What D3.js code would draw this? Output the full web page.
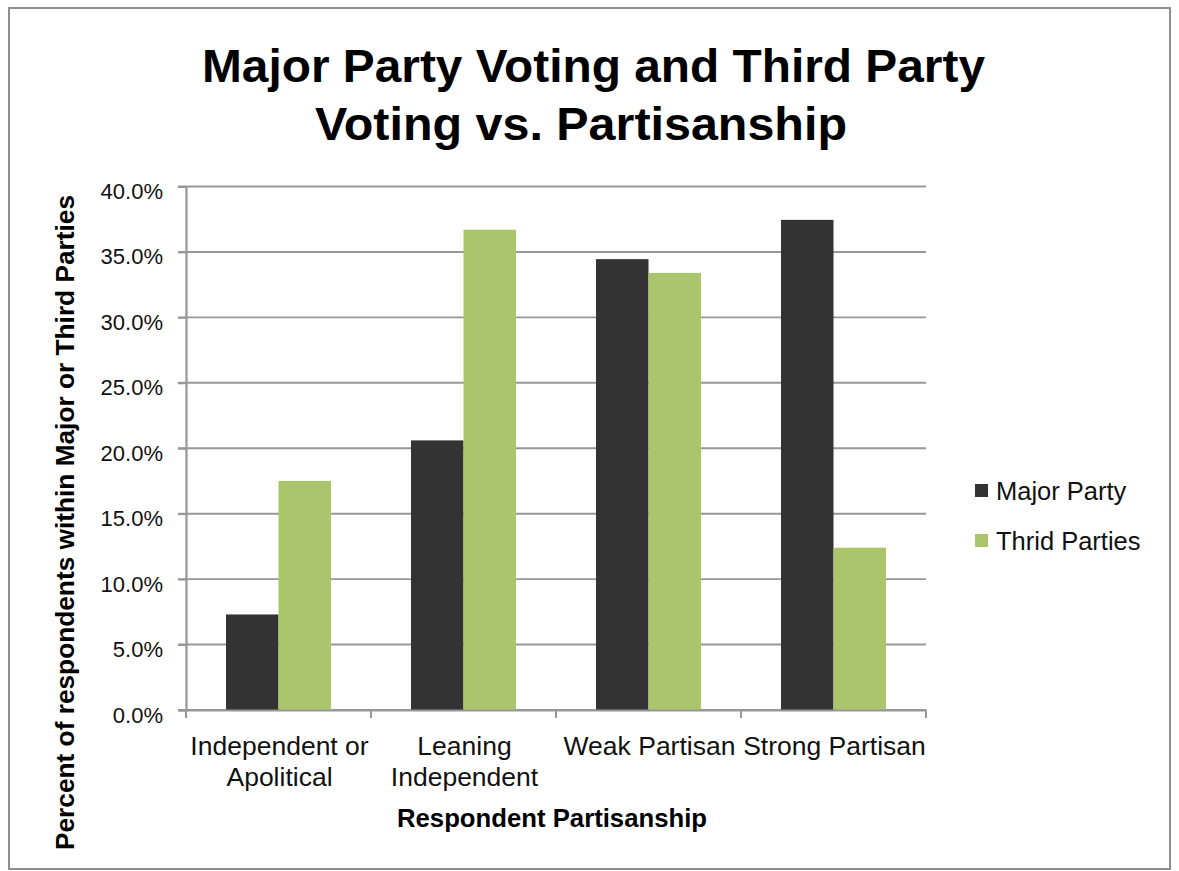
<!DOCTYPE html>
<html>
<head>
<meta charset="utf-8">
<script src="https://cdn.jsdelivr.net/npm/d3@7"></script>
<style>
  html, body { margin: 0; padding: 0; background: #fff; }
  svg { display: block; font-family: "Liberation Sans", Arial, sans-serif; }
</style>
</head>
<body>
<svg id="chart" width="1179" height="871"></svg>
<script>
// ---- data ----
const categories = [["Independent or", "Apolitical"], ["Leaning", "Independent"], ["Weak Partisan"], ["Strong Partisan"]];
const seriesNames = ["Major Party", "Thrid Parties"];
const majorParty = [7.3, 20.6, 34.45, 37.45];
const thirdParties = [17.5, 36.7, 33.4, 12.4];
const yTicks = [0, 5, 10, 15, 20, 25, 30, 35, 40];
const titleLines = ["Major Party Voting and Third Party", "Voting vs. Partisanship"];
const xTitle = "Respondent Partisanship";
const yTitle = "Percent of respondents within Major or Third Parties";
const colors = ["#333333", "#abc56d"];

const seriesValues = [majorParty, thirdParties];
const catKeys = categories.map(c => c.join(" "));

const svg = d3.select("#chart");
const gridColor = "#979797";

// border
svg.append("rect").attr("x", 9).attr("y", 8).attr("width", 1161).attr("height", 861)
  .attr("fill", "#fff").attr("stroke", "#8e8e8e").attr("stroke-width", 2);

// scales
const y = d3.scaleLinear().domain([0, 40]).range([710, 186.5]);
const x0 = d3.scaleBand().domain(catKeys).range([186, 926]).paddingInner(0.4324).paddingOuter(0.2162);
const x1 = d3.scaleBand().domain(seriesNames).range([0, x0.bandwidth()]);

// gridlines
svg.append("g").selectAll("line").data(yTicks).join("line")
  .attr("x1", 178).attr("x2", 926)
  .attr("y1", d => y(d)).attr("y2", d => y(d))
  .attr("stroke", gridColor).attr("stroke-width", 1.9);

// bars
const groups = svg.append("g").selectAll("g").data(catKeys).join("g")
  .attr("transform", d => `translate(${x0(d)},0)`);
groups.selectAll("rect").data((d, i) => seriesNames.map((s, j) => ({ s, v: seriesValues[j][i], j })))
  .join("rect")
  .attr("x", d => x1(d.s)).attr("width", x1.bandwidth())
  .attr("y", d => y(d.v)).attr("height", d => y(0) - y(d.v))
  .attr("fill", d => colors[d.j]);

// y axis
const yAxis = svg.append("g").attr("transform", "translate(186,0)")
  .call(d3.axisLeft(y).tickValues(yTicks).tickSize(8).tickPadding(15).tickFormat(d => d.toFixed(1) + "%"));
yAxis.select(".domain").attr("stroke", gridColor).attr("stroke-width", 2.2);
yAxis.selectAll(".tick line").attr("stroke", gridColor).attr("stroke-width", 1.9);
yAxis.selectAll(".tick text").attr("font-size", 22).attr("fill", "#111")
  .attr("font-family", "Liberation Sans, Arial, sans-serif")
  .attr("dy", null).attr("y", 12);

// x axis
const xAxisScale = d3.scaleBand().domain(catKeys).range([186, 926]);
const xAxis = svg.append("g").attr("transform", "translate(0,710)")
  .call(d3.axisBottom(xAxisScale).tickSize(0).tickFormat(""));
xAxis.select(".domain").attr("stroke", gridColor).attr("stroke-width", 2.2);
const boundaries = catKeys.map(k => xAxisScale(k)).concat([926]);
svg.append("g").selectAll("line").data(boundaries).join("line")
  .attr("x1", d => d).attr("x2", d => d).attr("y1", 710).attr("y2", 718)
  .attr("stroke", gridColor).attr("stroke-width", 2);

// category labels
const catLabels = svg.append("g").selectAll("text").data(categories).join("text")
  .attr("text-anchor", "middle").attr("font-size", 26.5).attr("fill", "#111")
  .attr("transform", (d, i) => `translate(${xAxisScale(catKeys[i]) + xAxisScale.bandwidth() / 2 + 1},755)`);
catLabels.selectAll("tspan").data(d => d).join("tspan")
  .attr("x", 0).attr("y", (d, i) => i * 31).text(d => d);

// title
const titleSpecs = [{ cx: 593.5, y: 82, len: 783 }, { cx: 581, y: 140, len: 532 }];
svg.append("g").selectAll("text").data(titleLines).join("text")
  .attr("x", (d, i) => titleSpecs[i].cx).attr("y", (d, i) => titleSpecs[i].y)
  .attr("text-anchor", "middle").attr("font-size", 47).attr("font-weight", "bold").attr("fill", "#000")
  .attr("textLength", (d, i) => titleSpecs[i].len).attr("lengthAdjust", "spacingAndGlyphs")
  .text(d => d);

// x title
svg.append("text").attr("x", 552).attr("y", 827).attr("text-anchor", "middle")
  .attr("font-size", 25.5).attr("font-weight", "bold").attr("fill", "#000")
  .attr("textLength", 310).attr("lengthAdjust", "spacingAndGlyphs").text(xTitle);

// y title
svg.append("text").attr("transform", "translate(74,522.5) rotate(-90)").attr("text-anchor", "middle")
  .attr("font-size", 26).attr("font-weight", "bold").attr("fill", "#000")
  .attr("textLength", 655).attr("lengthAdjust", "spacingAndGlyphs").text(yTitle);

// legend
const legend = svg.append("g").selectAll("g").data(seriesNames).join("g")
  .attr("transform", (d, i) => `translate(975,${484 + i * 50})`);
legend.append("rect").attr("width", 13).attr("height", 13).attr("fill", (d, i) => colors[i]);
legend.append("text").attr("x", 21).attr("y", 15.5).attr("font-size", 25.5).attr("fill", "#111").text(d => d);
</script>
</body>
</html>
